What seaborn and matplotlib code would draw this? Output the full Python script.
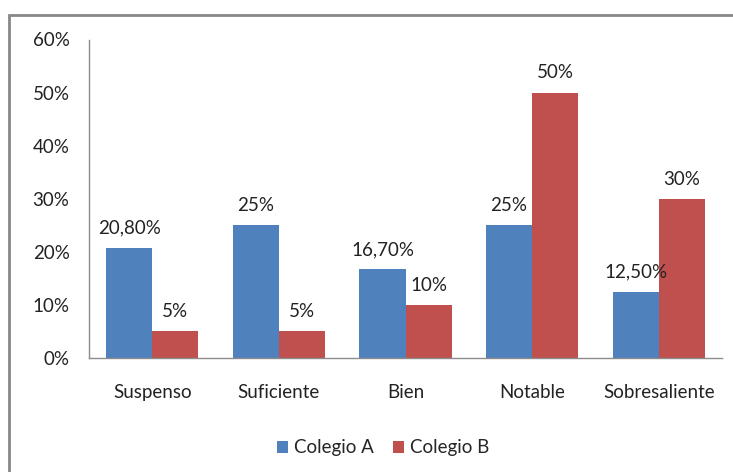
import matplotlib
matplotlib.use("Agg")
import matplotlib.pyplot as plt
import seaborn as sns
import pandas as pd
from matplotlib.patches import Rectangle
from matplotlib.ticker import FuncFormatter

categories = ["Suspenso", "Suficiente", "Bien", "Notable", "Sobresaliente"]
colegio_a = [20.8, 25.0, 16.7, 25.0, 12.5]
colegio_b = [5.0, 5.0, 10.0, 50.0, 30.0]
labels_a = ["20,80%", "25%", "16,70%", "25%", "12,50%"]
labels_b = ["5%", "5%", "10%", "50%", "30%"]
series = ["Colegio A", "Colegio B"]
colors = ["#4F81BD", "#C0504D"]

df = pd.DataFrame({
    "categoria": categories * 2,
    "valor": colegio_a + colegio_b,
    "colegio": [series[0]] * len(categories) + [series[1]] * len(categories),
})

sns.set_style("white")
plt.rcParams["font.family"] = ["Lato", "DejaVu Sans"]
FS = 13.5
TXT = "#222222"

fig = plt.figure(figsize=(7.33, 4.72), dpi=100)
ax = fig.add_axes([89 / 733, 1 - 358 / 472, (722 - 89) / 733, (358 - 39.5) / 472])

sns.barplot(data=df, x="categoria", y="valor", hue="colegio", order=categories,
            hue_order=series, palette=colors, width=0.727, saturation=1,
            edgecolor="none", ax=ax, legend=True)

ax.set_ylim(0, 60)
ax.set_yticks(range(0, 61, 10))
ax.yaxis.set_major_formatter(FuncFormatter(lambda v, _: f"{int(v)}%"))
ax.set_xlabel("")
ax.set_ylabel("")
ax.tick_params(axis="both", length=0, labelsize=FS, colors=TXT)
ax.tick_params(axis="y", pad=14)
ax.tick_params(axis="x", pad=19)

for side in ["top", "right"]:
    ax.spines[side].set_visible(False)
for side in ["left", "bottom"]:
    ax.spines[side].set_color("#8c8c8c")
    ax.spines[side].set_linewidth(1.0)

for container, labels in zip(ax.containers, [labels_a, labels_b]):
    ax.bar_label(container, labels=labels, padding=8, fontsize=FS, color=TXT)

handles, lbls = ax.get_legend_handles_labels()
ax.legend_.remove()
fig.legend(handles, lbls, loc="center", bbox_to_anchor=(383 / 733, 1 - 448 / 472),
           ncol=2, frameon=False, fontsize=FS, handlelength=0.6, handleheight=0.6,
           handletextpad=0.3, columnspacing=1.0)

# outer chart frame
fig.patches.append(Rectangle((9 / 733, -0.1), 1.2, 1 - 14.5 / 472 + 0.1,
                             transform=fig.transFigure, fill=False,
                             edgecolor="#888888", linewidth=2))

fig.savefig("out.png", dpi=100)
